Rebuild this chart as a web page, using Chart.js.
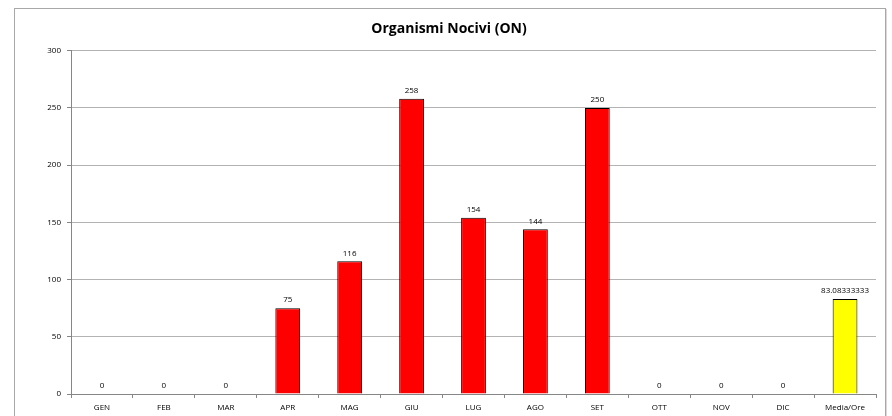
<!DOCTYPE html>
<html>
<head>
<meta charset="utf-8">
<script src="https://cdn.jsdelivr.net/npm/chart.js@4/dist/chart.umd.min.js"></script>
<style>
  html, body { margin: 0; padding: 0; background: #fff; }
  #wrap { position: relative; width: 892px; height: 416px; }
</style>
</head>
<body>
<div id="wrap"><canvas id="onChart" width="892" height="416"></canvas></div>
<script>
const months = ["GEN", "FEB", "MAR", "APR", "MAG", "GIU", "LUG", "AGO", "SET", "OTT", "NOV", "DIC", "Media/Ore"];
const values = [0, 0, 0, 75, 116, 258, 154, 144, 250, 0, 0, 0, 83.08333333];
const yTicks = [0, 50, 100, 150, 200, 250, 300];
const barColors = months.map((m, i) => i === months.length - 1 ? "#FFFF00" : "#FF0000");

const fontFam = "'Open Sans', 'Liberation Sans', sans-serif";

// outer frame like the Excel chart area
const framePlugin = {
    id: "frame",
    beforeDraw(chart) {
        const c = chart.ctx;
        c.save();
        c.fillStyle = "#fff";
        c.fillRect(0, 0, chart.width, chart.height);
        c.strokeStyle = "#a8a8a8";
        c.lineWidth = 1;
        c.strokeRect(14.5, 8.5, 871, 430);
        c.strokeStyle = "#d9d9d9";
        c.beginPath();
        c.moveTo(886.5, 9);
        c.lineTo(886.5, 416);
        c.stroke();
        c.restore();
    }
};

// value labels above bars
const valueLabels = {
    id: "valueLabels",
    afterDatasetsDraw(chart) {
        const c = chart.ctx;
        const meta = chart.getDatasetMeta(0);
        c.save();
        c.font = "8px " + fontFam;
        c.fillStyle = "#000";
        c.textAlign = "center";
        c.textBaseline = "bottom";
        meta.data.forEach((bar, i) => {
            c.fillText(String(values[i]), bar.x, bar.y - 4);
        });
        c.restore();
    }
};

const ctx = document.getElementById("onChart").getContext("2d");

const onChart = new Chart(ctx, {
    type: "bar",
    data: {
        labels: months,
        datasets: [{
            data: values,
            backgroundColor: barColors,
            borderColor: "#000",
            borderWidth: 1,
            barPercentage: 0.4,
            categoryPercentage: 1.0
        }]
    },
    options: {
        responsive: false,
        animation: false,
        layout: { padding: { left: 22, right: 16, top: 21, bottom: 0 } },
        plugins: {
            legend: { display: false },
            tooltip: { enabled: false },
            title: {
                display: true,
                text: "Organismi Nocivi (ON)",
                color: "#000",
                font: { family: fontFam, size: 14, weight: "bold" },
                padding: { top: 0, bottom: 13 }
            }
        },
        scales: {
            x: {
                grid: {
                    offset: true,
                    drawOnChartArea: false,
                    drawTicks: true,
                    tickLength: 4,
                    color: "#868686"
                },
                border: { color: "#868686" },
                ticks: {
                    color: "#000",
                    font: { family: fontFam, size: 8 },
                    padding: 5,
                    maxRotation: 0,
                    autoSkip: false
                },
                afterFit(scale) { scale.height = 22; }
            },
            y: {
                min: 0,
                max: 300,
                afterBuildTicks(scale) {
                    scale.ticks = yTicks.map(v => ({ value: v }));
                },
                grid: {
                    color: "#b3b3b3",
                    tickLength: 4,
                    tickColor: "#868686"
                },
                border: { color: "#868686" },
                ticks: {
                    color: "#000",
                    font: { family: fontFam, size: 8 },
                    padding: 6
                },
                afterFit(scale) { scale.width = 49; }
            }
        }
    },
    plugins: [framePlugin, valueLabels]
});
</script>
</body>
</html>
